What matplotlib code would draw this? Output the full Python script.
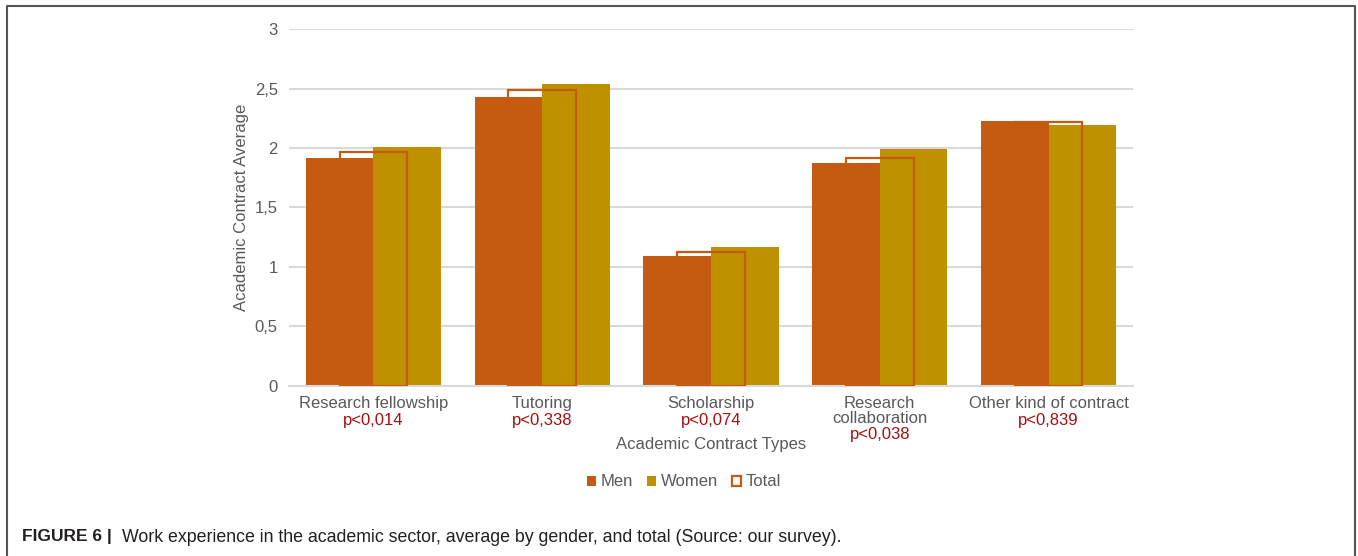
import numpy as np
import matplotlib.pyplot as plt
from matplotlib.patches import Patch
from matplotlib.lines import Line2D
from matplotlib.transforms import blended_transform_factory

plt.rcParams['font.family'] = ['Liberation Sans', 'DejaVu Sans']

categories = ['Research fellowship', 'Tutoring', 'Scholarship',
              'Research\ncollaboration', 'Other kind of contract']
p_values = ['p<0,014', 'p<0,338', 'p<0,074', 'p<0,038', 'p<0,839']
men = [1.92, 2.43, 1.09, 1.87, 2.23]
women = [2.01, 2.54, 1.17, 1.99, 2.19]
total = [1.97, 2.49, 1.13, 1.92, 2.22]
y_ticks = [0, 0.5, 1, 1.5, 2, 2.5, 3]
y_tick_labels = ['0', '0,5', '1', '1,5', '2', '2,5', '3']

men_color = '#C55A11'
women_color = '#BF9000'
text_gray = '#595959'
p_red = '#A50F0F'

fig = plt.figure(figsize=(13.58, 5.56), dpi=100)
ax = fig.add_axes([0.2128, 0.3058, 0.6215, 0.642])

x = np.arange(len(categories))
w = 0.4
ax.bar(x - w / 2, men, w, color=men_color, zorder=2)
ax.bar(x + w / 2, women, w, color=women_color, zorder=2)
ax.bar(x, total, w, facecolor='none', edgecolor=men_color, linewidth=1.6,
       zorder=3)

ax.set_xlim(-0.5, len(categories) - 0.5)
ax.set_ylim(0, 3)
ax.set_yticks(y_ticks)
ax.set_yticklabels(y_tick_labels)
ax.set_xticks(x)
ax.set_xticklabels(categories, linespacing=1.05)
ax.tick_params(length=0, labelsize=12, labelcolor=text_gray, pad=8)
ax.tick_params(axis='x', pad=7)
ax.yaxis.grid(True, color='#d9d9d9', linewidth=1.5, zorder=0)
ax.set_axisbelow(True)
for side in ['top', 'right', 'left']:
    ax.spines[side].set_visible(False)
ax.spines['bottom'].set_color('#d9d9d9')
ax.spines['bottom'].set_linewidth(1.5)

# p-values under each category name
trans = blended_transform_factory(ax.transData, ax.transAxes)
for i, p in enumerate(p_values):
    y = -0.136 if '\n' in categories[i] else -0.098
    ax.text(x[i], y, p, transform=trans, ha='center', va='center',
            fontsize=12, color=p_red)

ax.set_ylabel('Academic Contract Average', fontsize=12, color=text_gray,
              labelpad=4)
fig.text(711 / 1358, 1 - 445 / 556, 'Academic Contract Types', ha='center',
         va='center', fontsize=12, color=text_gray)

handles = [Patch(facecolor=men_color, edgecolor='none'),
           Patch(facecolor=women_color, edgecolor='none'),
           Patch(facecolor='none', edgecolor=men_color, linewidth=1.6)]
fig.legend(handles, ['Men', 'Women', 'Total'], loc='center',
           bbox_to_anchor=(684 / 1358, 1 - 482 / 556), ncol=3, frameon=False,
           fontsize=12, labelcolor=text_gray, handlelength=0.55,
           handleheight=0.55, handletextpad=0.3, columnspacing=0.8)

# caption
fig.text(22 / 1358, 1 - 537 / 556, 'FIGURE 6 |', fontsize=12.5,
         fontweight='bold', va='center', ha='left', color='#231f20')
fig.text(122 / 1358, 1 - 537 / 556,
         'Work experience in the academic sector, average by gender, and total '
         '(Source: our survey).', fontsize=12.8,
         va='center', ha='left', color='#231f20')

# panel frame, open at the bottom
frame_color = '#555555'
fig.add_artist(Line2D([7 / 1358, 7 / 1358, 1355 / 1358, 1355 / 1358],
                      [0, 1 - 6 / 556, 1 - 6 / 556, 0],
                      transform=fig.transFigure, color=frame_color,
                      linewidth=1.5))

fig.savefig('out.png', dpi=100, facecolor='white')
